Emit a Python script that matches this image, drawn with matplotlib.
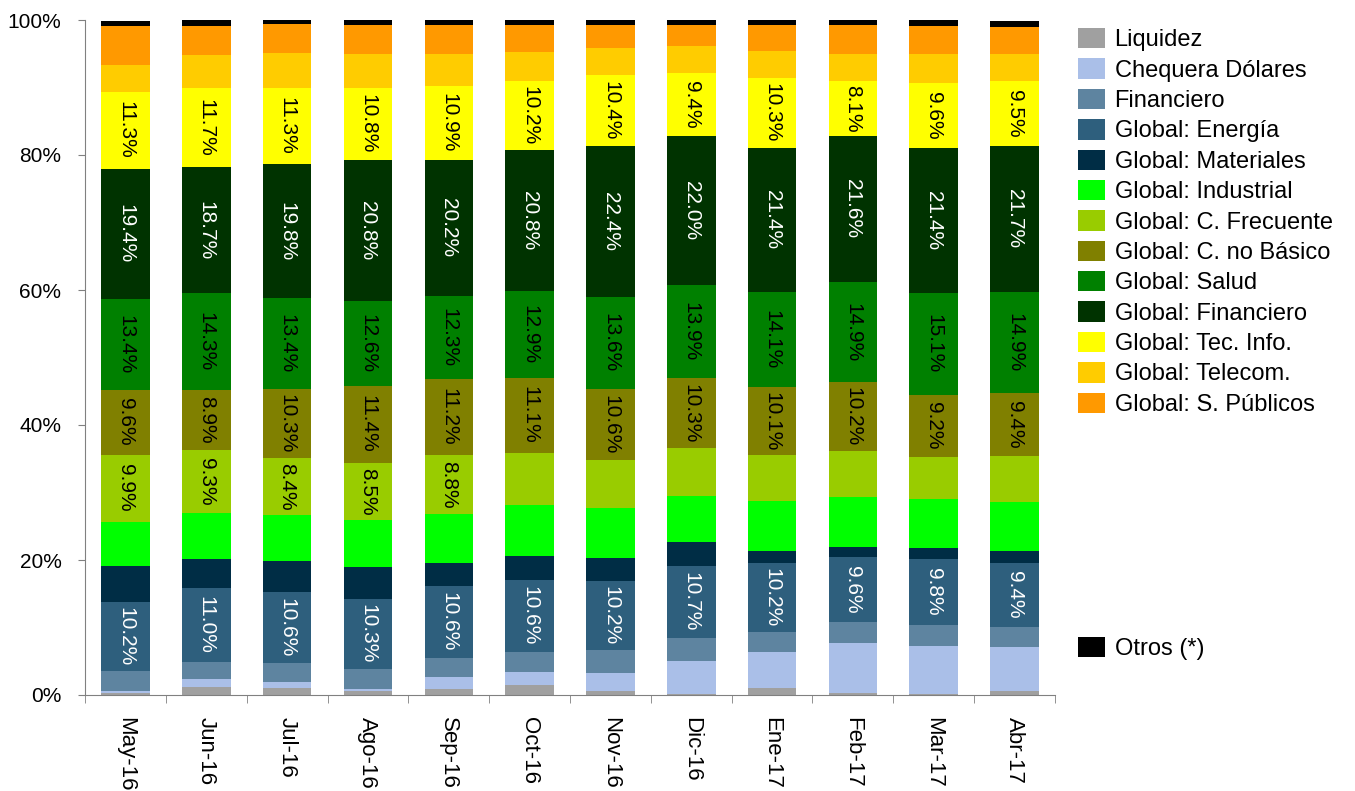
import matplotlib
matplotlib.use("Agg")
import matplotlib.pyplot as plt
from matplotlib.patches import Patch
import numpy as np

plt.rcParams['font.family'] = ['Liberation Sans', 'DejaVu Sans']

# months on the x axis
months = ['May-16', 'Jun-16', 'Jul-16', 'Ago-16', 'Sep-16', 'Oct-16',
          'Nov-16', 'Dic-16', 'Ene-17', 'Feb-17', 'Mar-17', 'Abr-17']

# shares per component (%), bottom to top
liquidez     = [0.3, 1.2, 1.1, 0.6, 0.9, 1.5, 0.6, 0.2, 1.1, 0.3, 0.2, 0.6]
chequera     = [0.3, 1.2, 0.9, 0.3, 1.8, 1.9, 2.7, 4.9, 5.2, 7.4, 7.1, 6.5]
financiero   = [3.0, 2.5, 2.7, 3.0, 2.8, 3.0, 3.4, 3.3, 3.0, 3.1, 3.1, 3.0]
energia      = [10.2, 11.0, 10.6, 10.3, 10.6, 10.6, 10.2, 10.7, 10.2, 9.6, 9.8, 9.4]
materiales   = [5.3, 4.3, 4.6, 4.7, 3.4, 3.6, 3.4, 3.6, 1.8, 1.6, 1.6, 1.8]
industrial   = [6.6, 6.8, 6.8, 7.0, 7.3, 7.6, 7.4, 6.8, 7.4, 7.3, 7.3, 7.3]
c_frecuente  = [9.9, 9.3, 8.4, 8.5, 8.8, 7.7, 7.1, 7.1, 6.8, 6.8, 6.2, 6.8]
c_no_basico  = [9.6, 8.9, 10.3, 11.4, 11.2, 11.1, 10.6, 10.3, 10.1, 10.2, 9.2, 9.4]
salud        = [13.4, 14.3, 13.4, 12.6, 12.3, 12.9, 13.6, 13.9, 14.1, 14.9, 15.1, 14.9]
g_financiero = [19.4, 18.7, 19.8, 20.8, 20.2, 20.8, 22.4, 22.0, 21.4, 21.6, 21.4, 21.7]
tec_info     = [11.3, 11.7, 11.3, 10.8, 10.9, 10.2, 10.4, 9.4, 10.3, 8.1, 9.6, 9.5]
telecom      = [4.0, 4.9, 5.2, 4.9, 4.7, 4.3, 4.1, 4.0, 4.0, 4.1, 4.3, 4.0]
s_publicos   = [5.8, 4.3, 4.3, 4.3, 4.4, 4.0, 3.4, 3.1, 3.9, 4.3, 4.2, 4.0]
otros        = [0.8, 0.9, 0.7, 0.9, 0.7, 0.9, 0.7, 0.7, 0.7, 0.7, 0.9, 1.0]

series = [
    ('Liquidez', liquidez, '#A0A0A0', None),
    ('Chequera Dólares', chequera, '#AABFE8', None),
    ('Financiero', financiero, '#5E84A0', None),
    ('Global: Energía', energia, '#2E5F7D', 'white'),
    ('Global: Materiales', materiales, '#002D45', None),
    ('Global: Industrial', industrial, '#00FF00', None),
    ('Global: C. Frecuente', c_frecuente, '#99CC00', 'black'),
    ('Global: C. no Básico', c_no_basico, '#808000', 'black'),
    ('Global: Salud', salud, '#008000', 'black'),
    ('Global: Financiero', g_financiero, '#003300', 'white'),
    ('Global: Tec. Info.', tec_info, '#FFFF00', 'black'),
    ('Global: Telecom.', telecom, '#FFCC00', None),
    ('Global: S. Públicos', s_publicos, '#FF9900', None),
    ('Otros (*)', otros, '#000000', None),
]
# C. Frecuente is labelled only for the first five months
n_frec_labels = 5

fig = plt.figure(figsize=(13.55, 7.91), dpi=100)
ax = fig.add_axes([85 / 1355, 96 / 791, 970 / 1355, 675 / 791])

x = np.arange(len(months))
bottom = np.zeros(len(months))
handles = []
for name, vals, color, txtcol in series:
    vals = np.array(vals)
    ax.bar(x, vals, 0.6, bottom=bottom, color=color, linewidth=0)
    if txtcol is not None:
        for i in range(len(months)):
            if name == 'Global: C. Frecuente' and i >= n_frec_labels:
                continue
            ax.text(x[i], bottom[i] + vals[i] / 2, f'{vals[i]:.1f}%',
                    rotation=270, ha='center', va='center',
                    color=txtcol, fontsize=15)
    handles.append(Patch(facecolor=color, edgecolor='none', label=name))
    bottom += vals

ax.set_xlim(-0.5, len(months) - 0.5)
ax.set_ylim(0, 100)
ax.set_yticks(np.arange(0, 101, 20))
ax.set_yticklabels([f'{v}%' for v in range(0, 101, 20)], fontsize=15)
ax.set_xticks(x)
ax.set_xticklabels(months, rotation=270, fontsize=16)
ax.tick_params(axis='x', which='major', length=0, pad=16)
ax.set_xticks(np.arange(-0.5, len(months), 1), minor=True)
ax.tick_params(axis='x', which='minor', length=6, color='#808080')
ax.tick_params(axis='y', length=5, color='#808080', pad=12)
for s in ['top', 'right']:
    ax.spines[s].set_visible(False)
for s in ['left', 'bottom']:
    ax.spines[s].set_color('#808080')

leg_kw = dict(loc='upper left', frameon=False, fontsize=17,
              handlelength=1.15, handleheight=0.95, handletextpad=0.4,
              borderpad=0, borderaxespad=0)
fig.legend(handles=handles[:-1], bbox_to_anchor=(1078 / 1355, 1 - 28 / 791),
           labelspacing=0.3, **leg_kw)
fig.legend(handles=handles[-1:], bbox_to_anchor=(1078 / 1355, 1 - 637 / 791),
           **leg_kw)

fig.savefig('out.png', dpi=100)
